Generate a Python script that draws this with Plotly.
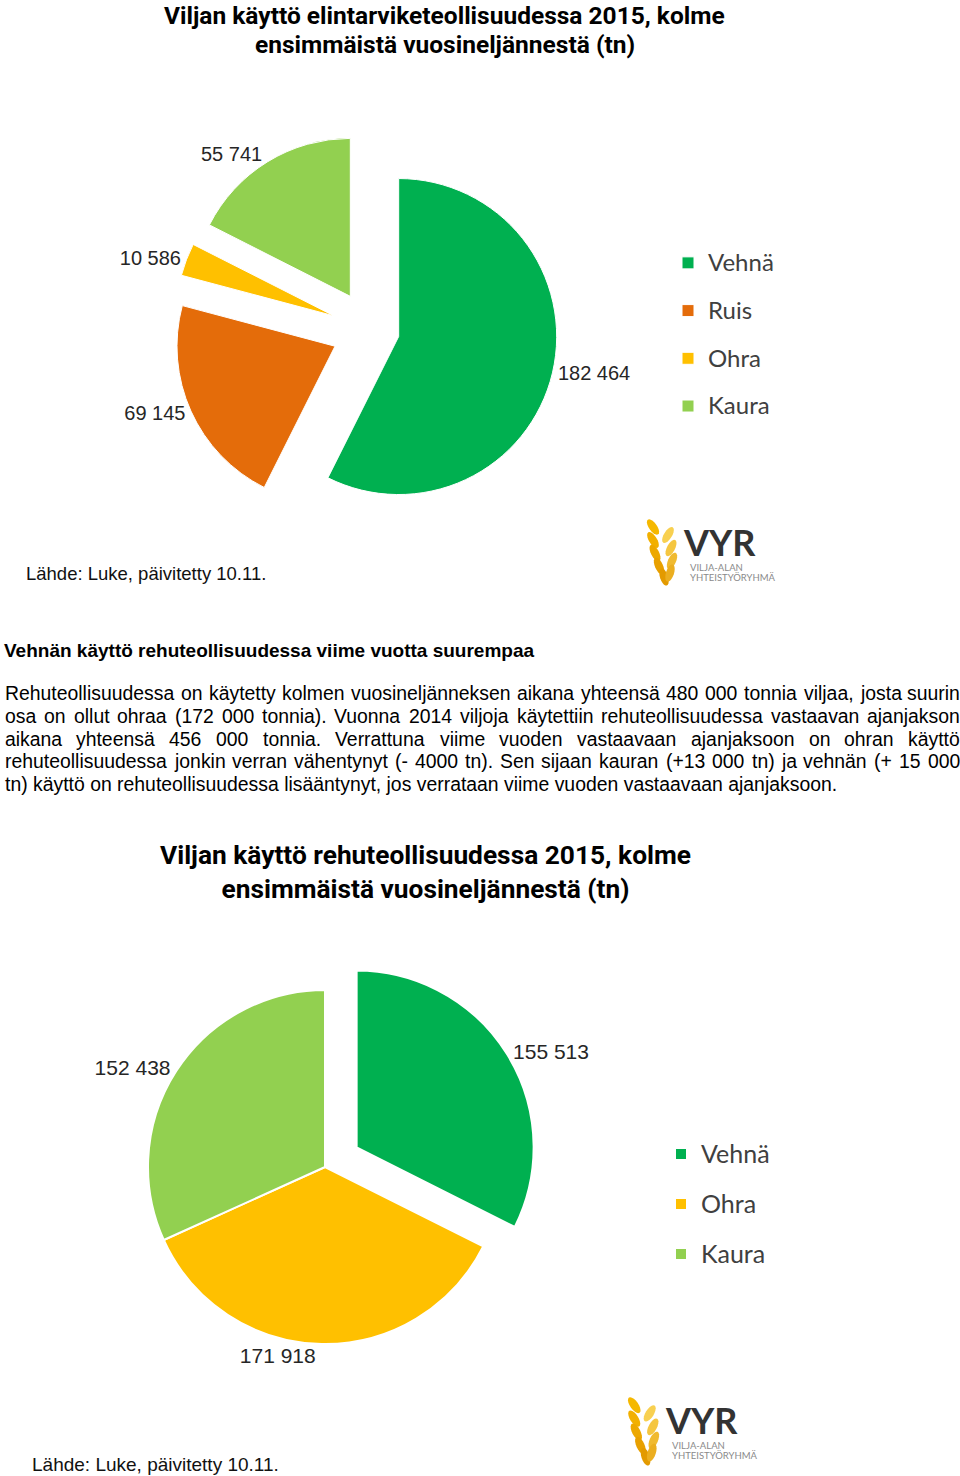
import math
import plotly.graph_objects as go

W, H = 960, 1476

# ---------------- data ----------------
food_title = ["Viljan käyttö elintarviketeollisuudessa 2015, kolme",
              "ensimmäistä vuosineljännestä (tn)"]
food_labels = ["Vehnä", "Ruis", "Ohra", "Kaura"]
food_values = [182464, 69145, 10586, 55741]

feed_title = ["Viljan käyttö rehuteollisuudessa 2015, kolme",
              "ensimmäistä vuosineljännestä (tn)"]
feed_labels = ["Vehnä", "Ohra", "Kaura"]
feed_values = [155513, 171918, 152438]

source_text = "Lähde: Luke, päivitetty 10.11."
heading_text = "Vehnän käyttö rehuteollisuudessa viime vuotta suurempaa"
paragraph_lines = [
    "Rehuteollisuudessa on käytetty kolmen vuosineljänneksen aikana yhteensä 480 000 tonnia viljaa, josta suurin",
    "osa on ollut ohraa (172 000 tonnia). Vuonna 2014 viljoja käytettiin rehuteollisuudessa vastaavan ajanjakson",
    "aikana yhteensä 456 000 tonnia. Verrattuna viime vuoden vastaavaan ajanjaksoon on ohran käyttö",
    "rehuteollisuudessa jonkin verran vähentynyt (- 4000 tn). Sen sijaan kauran (+13 000 tn) ja vehnän (+ 15 000",
    "tn) käyttö on rehuteollisuudessa lisääntynyt, jos verrataan viime vuoden vastaavaan ajanjaksoon.",
]

# ---------------- styles ----------------
COL = {"Vehnä": "#00B050", "Ruis": "#E46C0A", "Ohra": "#FFC000", "Kaura": "#92D050"}
food_pull = [0.18, 0.25, 0.25, 0.25]
feed_pull = [0.21, 0, 0]

TITLEF = "Roboto, Liberation Sans, Arial, sans-serif"
ARIAL = "Liberation Sans, Arial, sans-serif"
LEG = "Lato, Carlito, Calibri, sans-serif"


def px(x):
    return x / W


def py(y):
    return 1 - y / H


def domain(cx, cy, r, maxpull):
    half = r * (1 + maxpull)
    return dict(x=[px(cx - half), px(cx + half)], y=[py(cy + half), py(cy - half)])


def leg_label(name, size, shift):
    return f"<span style='font-size:{size}px;baseline-shift:{shift}px'>{name}</span>"


fig = go.Figure()

fig.add_trace(go.Pie(
    labels=[leg_label(l, 24, 5) for l in food_labels],
    values=food_values,
    marker=dict(colors=[COL[l] for l in food_labels], line=dict(color="white", width=1)),
    pull=food_pull, sort=False, direction="clockwise", rotation=0,
    texttemplate="%{value:,.0f}", textposition="outside",
    outsidetextfont=dict(family=ARIAL, size=20, color="#262626"),
    domain=domain(371, 330, 158, max(food_pull)),
    legend="legend", hoverinfo="label+value",
))

fig.add_trace(go.Pie(
    labels=[leg_label(l, 25, 5) for l in feed_labels],
    values=feed_values,
    marker=dict(colors=[COL[l] for l in feed_labels], line=dict(color="white", width=2)),
    pull=feed_pull, sort=False, direction="clockwise", rotation=0,
    texttemplate="%{value:,.0f}", textposition="outside",
    outsidetextfont=dict(family=ARIAL, size=21, color="#262626"),
    domain=domain(325, 1167, 177, max(feed_pull)),
    legend="legend2", hoverinfo="label+value",
))

ann = []


def text(x, y, s, size, family, color="#000", xanchor="left", bold=False):
    ann.append(dict(x=px(x), y=py(y), xref="paper", yref="paper", text=(f"<b>{s}</b>" if bold else s),
                    showarrow=False, xanchor=xanchor, yanchor="middle",
                    font=dict(family=family, size=size, color=color)))


# titles
text(444, 15.5, food_title[0], 24.5, TITLEF, xanchor="center", bold=True)
text(445, 44.5, food_title[1], 24.5, TITLEF, xanchor="center", bold=True)
text(425, 872, "<br>".join(feed_title), 26.3, TITLEF, xanchor="center", bold=True)

# sources
text(24, 573, source_text, 18.5, ARIAL, color="#111")
text(30, 1464, source_text, 19, ARIAL, color="#111")

# heading
text(2, 650, heading_text, 19, ARIAL, bold=True)

# paragraph, justified with Arial metrics
AW = {" ": 278, "(": 333, ")": 333, "+": 584, ",": 278, "-": 333, ".": 278, ":": 278,
      "R": 722, "S": 667, "V": 667,
      "a": 556, "b": 556, "c": 500, "d": 556, "e": 556, "f": 278, "g": 556, "h": 556, "i": 222,
      "j": 222, "k": 500, "l": 222, "m": 833, "n": 556, "o": 556, "p": 556, "q": 556, "r": 333,
      "s": 500, "t": 278, "u": 556, "v": 500, "w": 722, "x": 500, "y": 500, "z": 500,
      "ä": 556, "ö": 556}
PSIZE = 19.4


def tw(s):
    return sum(AW.get(c, 556) for c in s) * PSIZE / 1000


left, right = 3, 958
for i, line in enumerate(paragraph_lines):
    y = 693 + i * 22.75
    words = line.split(" ")
    if i < len(paragraph_lines) - 1:
        total = sum(tw(w) for w in words)
        gap = (right - left - total) / (len(words) - 1)
        x = left
        for w in words:
            text(x, y, w, PSIZE, ARIAL)
            x += tw(w) + gap
    else:
        text(left, y, line, PSIZE, ARIAL)

# logos
shapes = []


def grain(cx, cy, L, Wd, ang, color, n=20):
    a = math.radians(ang)
    pts = []
    for k in range(n):
        t = 2 * math.pi * k / n
        ex, ey = L / 2 * math.cos(t), Wd / 2 * math.sin(t)
        x = cx + ex * math.cos(a) - ey * math.sin(a)
        y = cy + ex * math.sin(a) + ey * math.cos(a)
        pts.append(f"{px(x):.5f},{py(y):.5f}")
    shapes.append(dict(type="path", xref="paper", yref="paper",
                       path="M " + " L ".join(pts) + " Z", fillcolor=color, line=dict(width=0)))


GRAINS = [(8, 7, 55, "#F5B800"), (8, 20, 58, "#F2B000"), (10, 33, 62, "#EDA800"), (14, 46, 66, "#E8A000"),
          (19, 57, 72, "#E39A00"),
          (23, 15, -58, "#F8D050"), (26, 28, -62, "#F5C640"), (27, 41, -66, "#F0BA30"), (25, 53, -72, "#EBAE20")]


def logo(ox, oy, s):
    for dx, dy, ang, c in GRAINS:
        grain(ox + dx * s, oy + dy * s, 18 * s, 8 * s, ang, c)
    text(ox + 36 * s, oy + 22, "VYR", 36, "Lato, sans-serif", color="#333333", bold=True)
    text(ox + 43 * s, oy + 47.5, "VILJA-ALAN", 9.5, "Lato, sans-serif", color="#8a8a8a")
    text(ox + 43 * s, oy + 57.5, "YHTEISTYÖRYHMÄ", 9.5, "Lato, sans-serif", color="#8a8a8a")


logo(645, 520, 1.0)
logo(626, 1398, 1.03)

fig.update_layout(
    width=W, height=H, margin=dict(l=0, r=0, t=0, b=0),
    paper_bgcolor="white", plot_bgcolor="white",
    separators=", ",
    showlegend=True,
    legend=dict(x=px(668), y=py(234), xanchor="left", yanchor="top",
                font=dict(family=LEG, size=34.4, color="#404040"),
                bgcolor="rgba(0,0,0,0)", itemwidth=30),
    legend2=dict(x=px(661), y=py(1124), xanchor="left", yanchor="top",
                 font=dict(family=LEG, size=36.15, color="#404040"),
                 bgcolor="rgba(0,0,0,0)", itemwidth=30),
    annotations=ann, shapes=shapes,
)

fig.write_html("out.html")
